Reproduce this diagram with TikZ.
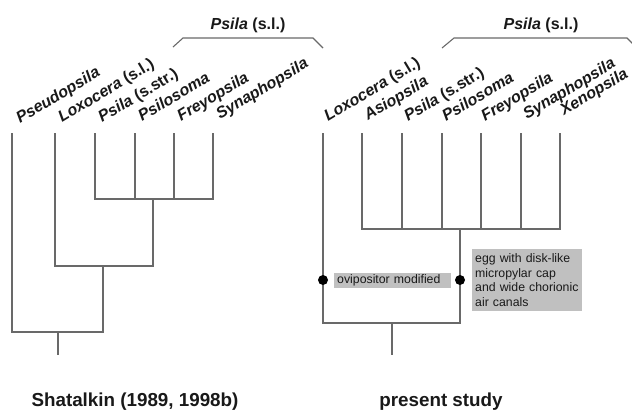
\documentclass[tikz,border=0pt]{standalone}
\usepackage{fontspec}
\setmainfont{Liberation Sans}
\definecolor{linegray}{RGB}{105,105,105}
\definecolor{boxgray}{RGB}{192,192,192}
\definecolor{ink}{RGB}{25,25,25}
\begin{document}
\begin{tikzpicture}[x=1bp,y=-1bp,
  branch/.style={draw=linegray,line width=1.1bp},
  taxon/.style={rotate=31,anchor=base west,inner sep=0pt,text=ink,
    font=\fontsize{16bp}{18bp}\selectfont\bfseries\itshape},
  grouptitle/.style={anchor=base,inner sep=0pt,text=ink,
    font=\fontsize{16bp}{18bp}\selectfont\bfseries},
  studytitle/.style={anchor=base,inner sep=0pt,text=ink,
    font=\fontsize{18.8bp}{20bp}\selectfont\bfseries},
  charbox/.style={fill=boxgray,text=ink,inner sep=0pt,anchor=north west,
    align=left,font=\fontsize{12.3bp}{14.6bp}\selectfont},
  chardot/.style={circle,fill=black,inner sep=0pt,minimum size=10bp}]
\useasboundingbox (0,0) rectangle (632,412);
\fill[white] (0,0) rectangle (632,412);

% ---------------- left tree: Shatalkin ----------------
\foreach \n/\x in {a/12,b/55,c/95,d/135,e/174,f/213}
  \coordinate (L\n) at (\x,133);
\coordinate (LAl) at (95,199);  \coordinate (LAr) at (213,199);
\coordinate (LAd) at (135,199); \coordinate (LAe) at (174,199);
\coordinate (LAs) at (153,199); \coordinate (LBs) at (153,266);
\coordinate (LBl) at (55,266);  \coordinate (LBm) at (103,266);
\coordinate (LCm) at (103,332); \coordinate (LCl) at (12,332);
\coordinate (LRt) at (58,332);  \coordinate (LRb) at (58,355);

\draw[branch] (Lc) -- (LAl) -- (LAr) -- (Lf);
\draw[branch] (Ld) -- (LAd);
\draw[branch] (Le) -- (LAe);
\draw[branch] (LAs) -- (LBs) -- (LBl) -- (Lb);
\draw[branch] (LBm) -- (LCm) -- (LCl) -- (La);
\draw[branch] (LRt) -- (LRb);

\node[taxon] (tPseudo) at (20,124) {Pseudopsila};
\node[taxon] (tLoxoL) at (62,123) {Loxocera \upshape(s.l.)};
\node[taxon] (tPsilaL) at (102,123) {Psila \upshape(s.str.)};
\node[taxon] (tPsilosL) at (142,122) {Psilosoma};
\node[taxon] (tFreyL) at (181,122) {Freyopsila};
\node[taxon] (tSynL) at (220,120) {Synaphopsila};

\coordinate (LBa) at (173,47); \coordinate (LBb) at (183,38);
\coordinate (LBc) at (313,38); \coordinate (LBd) at (323,48);
\draw[branch] (LBa) -- (LBb) -- (LBc) -- (LBd);
\node[grouptitle] (gL) at (248,29) {\itshape Psila\upshape\ (s.l.)};

\node[studytitle] (sL) at (135,406) {Shatalkin (1989, 1998b)};

% ---------------- right tree: present study ----------------
\foreach \n/\x in {a/323,b/362,c/402,d/442,e/481,f/521,g/560}
  \coordinate (R\n) at (\x,133);
\coordinate (RAl) at (362,229); \coordinate (RAr) at (560,229);
\coordinate (RAc) at (402,229); \coordinate (RAd) at (442,229);
\coordinate (RAe) at (481,229); \coordinate (RAf) at (521,229);
\coordinate (RAs) at (460,229); \coordinate (RBs) at (460,323);
\coordinate (RBl) at (323,323);
\coordinate (RRt) at (392,323); \coordinate (RRb) at (392,355);

\draw[branch] (Rb) -- (RAl) -- (RAr) -- (Rg);
\draw[branch] (Rc) -- (RAc);
\draw[branch] (Rd) -- (RAd);
\draw[branch] (Re) -- (RAe);
\draw[branch] (Rf) -- (RAf);
\draw[branch] (RAs) -- (RBs) -- (RBl) -- (Ra);
\draw[branch] (RRt) -- (RRb);

\node[taxon] (tLoxoR) at (328,122) {Loxocera \upshape(s.l.)};
\node[taxon] (tAsio) at (368,121) {Asiopsila};
\node[taxon] (tPsilaR) at (408,122) {Psila \upshape(s.str.)};
\node[taxon] (tPsilosR) at (446,122) {Psilosoma};
\node[taxon] (tFreyR) at (485,122) {Freyopsila};
\node[taxon] (tSynR) at (527,120) {Synaphopsila};
\node[taxon] (tXeno) at (564,116) {Xenopsila};

\coordinate (RBa) at (442,48); \coordinate (RBb) at (454,38);
\coordinate (RBc) at (627,38); \coordinate (RBd) at (637,48);
\draw[branch] (RBa) -- (RBb) -- (RBc) -- (RBd);
\node[grouptitle] (gR) at (541,29) {\itshape Psila\upshape\ (s.l.)};

\node[studytitle] (sR) at (441,406) {present study};

% characters
\node[chardot] (d1) at (323,280) {};
\node[chardot] (d2) at (460,280) {};
\node[charbox,minimum width=114bp,minimum height=15bp,text width=111bp,
  inner xsep=3bp] (c1) at (334,273) {ovipositor modified};
\node[charbox,minimum width=110bp,minimum height=62bp,text width=104bp,
  inner xsep=3bp,inner ysep=1.5bp] (c2) at (472,249)
  {egg with disk-like\\micropylar cap\\and wide chorionic\\air canals};
\end{tikzpicture}
\end{document}
